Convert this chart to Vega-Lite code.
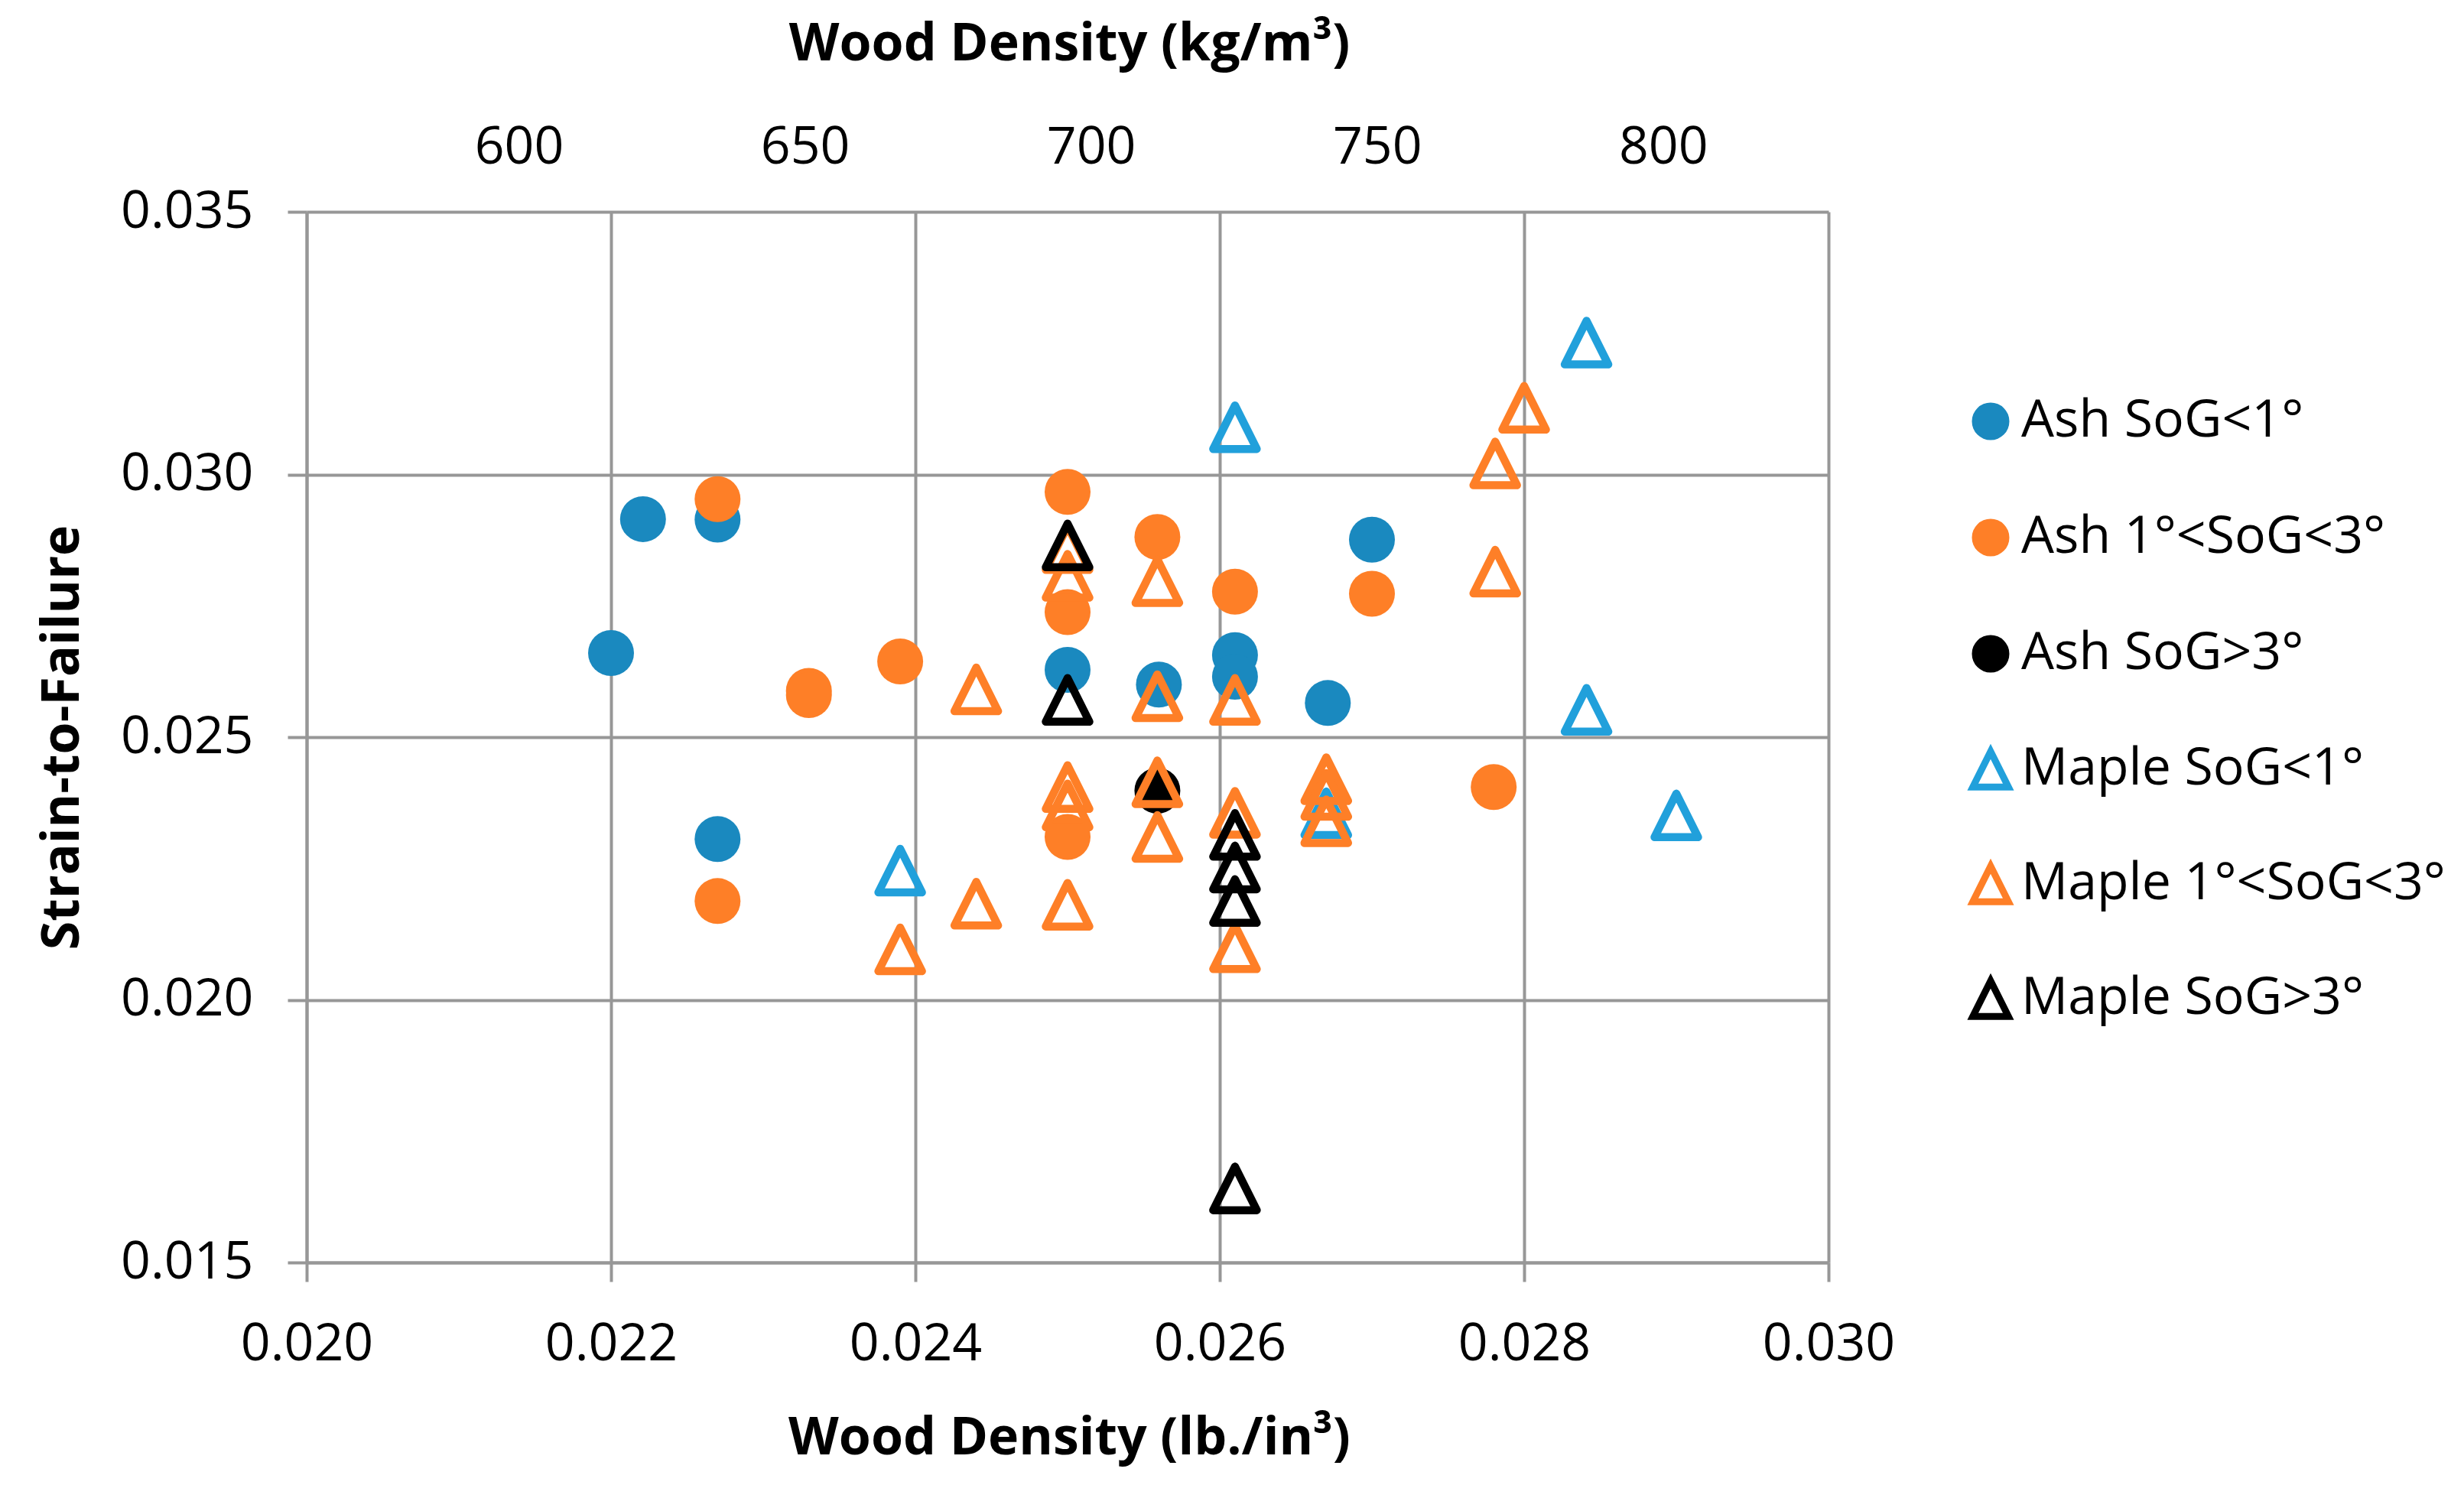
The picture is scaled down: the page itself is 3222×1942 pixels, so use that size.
{
  "$schema": "https://vega.github.io/schema/vega-lite/v6.json",
  "width": 1990,
  "height": 1374,
  "autosize": {"type": "none"},
  "padding": {"left": 401, "top": 277, "right": 831, "bottom": 291},
  "background": "white",
  "config": {
    "font": "Open Sans",
    "view": {"stroke": null},
    "axis": {
      "labelFont": "Open Sans",
      "titleFont": "Open Sans",
      "labelFontSize": 68,
      "titleFontSize": 68,
      "labelColor": "#000000",
      "titleColor": "#000000",
      "titleFontWeight": "bold",
      "labelFlush": false,
      "labelOverlap": false,
      "gridColor": "#979797",
      "gridWidth": 4,
      "domainColor": "#979797",
      "domainWidth": 4,
      "tickColor": "#979797",
      "tickWidth": 4,
      "tickSize": 25
    },
    "legend": {
      "labelFont": "Open Sans",
      "labelFontSize": 68,
      "labelColor": "#000000",
      "labelLimit": 0
    }
  },
  "layer": [
    {
      "data": {
        "values": [
          {"series": "Ash SoG<1°", "density": 0.0220, "strain": 0.0266},
          {"series": "Ash SoG<1°", "density": 0.02221, "strain": 0.02915},
          {"series": "Ash SoG<1°", "density": 0.0227, "strain": 0.02914},
          {"series": "Ash SoG<1°", "density": 0.0227, "strain": 0.02306},
          {"series": "Ash SoG<1°", "density": 0.0250, "strain": 0.02628},
          {"series": "Ash SoG<1°", "density": 0.0256, "strain": 0.0260},
          {"series": "Ash SoG<1°", "density": 0.0261, "strain": 0.02656},
          {"series": "Ash SoG<1°", "density": 0.0261, "strain": 0.02615},
          {"series": "Ash SoG<1°", "density": 0.02671, "strain": 0.02565},
          {"series": "Ash SoG<1°", "density": 0.0270, "strain": 0.02876},
          {"series": "Ash 1°<SoG<3°", "density": 0.0227, "strain": 0.02953},
          {"series": "Ash 1°<SoG<3°", "density": 0.0227, "strain": 0.02188},
          {"series": "Ash 1°<SoG<3°", "density": 0.0233, "strain": 0.02588},
          {"series": "Ash 1°<SoG<3°", "density": 0.0233, "strain": 0.02580},
          {"series": "Ash 1°<SoG<3°", "density": 0.0239, "strain": 0.02644},
          {"series": "Ash 1°<SoG<3°", "density": 0.0250, "strain": 0.02967},
          {"series": "Ash 1°<SoG<3°", "density": 0.0250, "strain": 0.02738},
          {"series": "Ash 1°<SoG<3°", "density": 0.0250, "strain": 0.0231},
          {"series": "Ash 1°<SoG<3°", "density": 0.02559, "strain": 0.02881},
          {"series": "Ash 1°<SoG<3°", "density": 0.0261, "strain": 0.02777},
          {"series": "Ash 1°<SoG<3°", "density": 0.0270, "strain": 0.02773},
          {"series": "Ash 1°<SoG<3°", "density": 0.0278, "strain": 0.02405},
          {"series": "Ash SoG>3°", "density": 0.02559, "strain": 0.02398},
          {"series": "Maple SoG<1°", "density": 0.0239, "strain": 0.02246},
          {"series": "Maple SoG<1°", "density": 0.0261, "strain": 0.0309},
          {"series": "Maple SoG<1°", "density": 0.0267, "strain": 0.02355},
          {"series": "Maple SoG<1°", "density": 0.02841, "strain": 0.03251},
          {"series": "Maple SoG<1°", "density": 0.02841, "strain": 0.02552},
          {"series": "Maple SoG<1°", "density": 0.0290, "strain": 0.02351},
          {"series": "Maple 1°<SoG<3°", "density": 0.0239, "strain": 0.02096},
          {"series": "Maple 1°<SoG<3°", "density": 0.0244, "strain": 0.02591},
          {"series": "Maple 1°<SoG<3°", "density": 0.0244, "strain": 0.02183},
          {"series": "Maple 1°<SoG<3°", "density": 0.0250, "strain": 0.0286},
          {"series": "Maple 1°<SoG<3°", "density": 0.0250, "strain": 0.02807},
          {"series": "Maple 1°<SoG<3°", "density": 0.0250, "strain": 0.02405},
          {"series": "Maple 1°<SoG<3°", "density": 0.0250, "strain": 0.0237},
          {"series": "Maple 1°<SoG<3°", "density": 0.0250, "strain": 0.02181},
          {"series": "Maple 1°<SoG<3°", "density": 0.02559, "strain": 0.02797},
          {"series": "Maple 1°<SoG<3°", "density": 0.02559, "strain": 0.02578},
          {"series": "Maple 1°<SoG<3°", "density": 0.02559, "strain": 0.02414},
          {"series": "Maple 1°<SoG<3°", "density": 0.02559, "strain": 0.0231},
          {"series": "Maple 1°<SoG<3°", "density": 0.0261, "strain": 0.02571},
          {"series": "Maple 1°<SoG<3°", "density": 0.0261, "strain": 0.02356},
          {"series": "Maple 1°<SoG<3°", "density": 0.0261, "strain": 0.0210},
          {"series": "Maple 1°<SoG<3°", "density": 0.0267, "strain": 0.0242},
          {"series": "Maple 1°<SoG<3°", "density": 0.0267, "strain": 0.0239},
          {"series": "Maple 1°<SoG<3°", "density": 0.0267, "strain": 0.0234},
          {"series": "Maple 1°<SoG<3°", "density": 0.02781, "strain": 0.03021},
          {"series": "Maple 1°<SoG<3°", "density": 0.02781, "strain": 0.02815},
          {"series": "Maple 1°<SoG<3°", "density": 0.0280, "strain": 0.03127},
          {"series": "Maple SoG>3°", "density": 0.0250, "strain": 0.02865},
          {"series": "Maple SoG>3°", "density": 0.0250, "strain": 0.02571},
          {"series": "Maple SoG>3°", "density": 0.0261, "strain": 0.02314},
          {"series": "Maple SoG>3°", "density": 0.0261, "strain": 0.02252},
          {"series": "Maple SoG>3°", "density": 0.0261, "strain": 0.02188},
          {"series": "Maple SoG>3°", "density": 0.0261, "strain": 0.01641}
        ]
      },
      "mark": {"type": "point", "size": 3600, "strokeWidth": 10.5, "strokeJoin": "round", "opacity": 1},
      "encoding": {
        "x": {
          "field": "density",
          "type": "quantitative",
          "scale": {"domain": [0.020, 0.030], "nice": false, "zero": false},
          "axis": {
            "values": [0.020, 0.022, 0.024, 0.026, 0.028, 0.030],
            "format": ".3f",
            "labelPadding": 48,
            "title": "Wood Density (lb./in³)",
            "titleX": 997,
            "titleY": 230,
            "titleBaseline": "middle",
            "titleAlign": "center"
          }
        },
        "y": {
          "field": "strain",
          "type": "quantitative",
          "scale": {"domain": [0.015, 0.035], "nice": false, "zero": false},
          "axis": {
            "values": [0.015, 0.020, 0.025, 0.030, 0.035],
            "format": ".3f",
            "labelPadding": 45,
            "title": "Strain-to-Failure",
            "titleX": -319,
            "titleY": 687,
            "titleAngle": -90,
            "titleBaseline": "middle",
            "titleAlign": "center"
          }
        },
        "shape": {
          "field": "series",
          "type": "nominal",
          "scale": {
            "domain": ["Ash SoG<1°", "Ash 1°<SoG<3°", "Ash SoG>3°", "Maple SoG<1°", "Maple 1°<SoG<3°", "Maple SoG>3°"],
            "range": ["circle", "circle", "circle", "M0,-0.95L0.95,0.95L-0.95,0.95Z", "M0,-0.95L0.95,0.95L-0.95,0.95Z", "M0,-0.95L0.95,0.95L-0.95,0.95Z"]
          },
          "legend": {
            "title": null,
            "orient": "none",
            "legendX": 2168,
            "legendY": 240,
            "rowPadding": 66,
            "symbolSize": 2400,
            "symbolStrokeWidth": 9,
            "labelOffset": 6,
            "padding": 0
          }
        },
        "fill": {
          "field": "series",
          "type": "nominal",
          "scale": {
            "domain": ["Ash SoG<1°", "Ash 1°<SoG<3°", "Ash SoG>3°", "Maple SoG<1°", "Maple 1°<SoG<3°", "Maple SoG>3°"],
            "range": ["#1a89bf", "#fe7f27", "#000000", "transparent", "transparent", "transparent"]
          },
          "legend": {
            "title": null,
            "orient": "none",
            "legendX": 2168,
            "legendY": 240,
            "rowPadding": 66,
            "symbolSize": 2400,
            "symbolStrokeWidth": 9,
            "labelOffset": 6,
            "padding": 0
          }
        },
        "stroke": {
          "field": "series",
          "type": "nominal",
          "scale": {
            "domain": ["Ash SoG<1°", "Ash 1°<SoG<3°", "Ash SoG>3°", "Maple SoG<1°", "Maple 1°<SoG<3°", "Maple SoG>3°"],
            "range": ["transparent", "transparent", "transparent", "#21a0db", "#fe7f27", "#000000"]
          },
          "legend": {
            "title": null,
            "orient": "none",
            "legendX": 2168,
            "legendY": 240,
            "rowPadding": 66,
            "symbolSize": 2400,
            "symbolStrokeWidth": 9,
            "labelOffset": 6,
            "padding": 0
          }
        }
      }
    },
    {
      "data": {"values": [{"kg": 600}, {"kg": 800}]},
      "mark": {"type": "point", "opacity": 0},
      "encoding": {
        "x": {
          "field": "kg",
          "type": "quantitative",
          "scale": {"domain": [562.9, 828.9], "nice": false, "zero": false},
          "axis": {
            "orient": "top",
            "values": [600, 650, 700, 750, 800],
            "ticks": false,
            "domain": false,
            "grid": false,
            "labelPadding": 50,
            "title": "Wood Density (kg/m³)",
            "titleX": 997,
            "titleY": -219,
            "titleBaseline": "middle",
            "titleAlign": "center"
          }
        }
      }
    }
  ],
  "resolve": {"scale": {"x": "independent"}, "axis": {"x": "independent"}}
}
